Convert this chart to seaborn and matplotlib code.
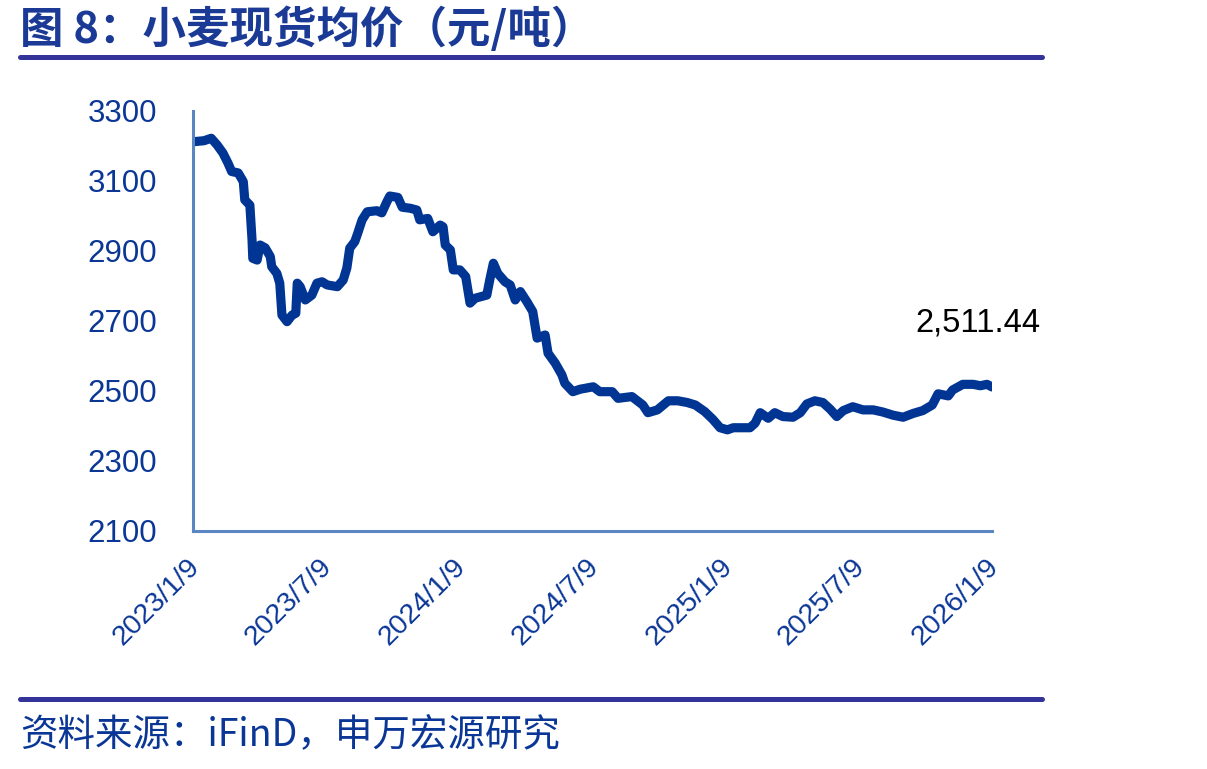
import matplotlib
matplotlib.use("Agg")
import matplotlib.pyplot as plt
import matplotlib.transforms as mtransforms
import seaborn as sns
import pandas as pd

# ---- data ----
start_date = "2023-01-09"
day_offsets = [0, 15, 25, 33, 41, 48, 53, 62, 69, 71, 78, 81, 82, 88, 92, 99, 106, 108,
               115, 119, 122, 129, 136, 141, 143, 147, 154, 163, 170, 177, 184, 198,
               206, 211, 215, 222, 226, 232, 239, 252, 259, 266, 270, 281, 287, 298,
               307, 311, 322, 329, 339, 343, 346, 353, 357, 366, 374, 380, 387, 403,
               407, 412, 418, 428, 435, 442, 449, 458, 466, 472, 483, 487, 497, 506,
               510, 521, 531, 549, 558, 575, 583, 602, 617, 624, 637, 652, 665, 678,
               689, 702, 713, 723, 733, 741, 764, 771, 778, 789, 798, 809, 823, 833,
               842, 853, 864, 874, 883, 892, 905, 919, 933, 946, 960, 974, 988, 1001,
               1014, 1022, 1036, 1042, 1056, 1070, 1080, 1089, 1096]
prices = [3212, 3215, 3222, 3203, 3180, 3151, 3127, 3123, 3098, 3046, 3031, 2931, 2879,
          2874, 2917, 2909, 2884, 2855, 2836, 2808, 2717, 2698, 2717, 2722, 2808, 2798,
          2760, 2774, 2808, 2812, 2803, 2798, 2817, 2851, 2908, 2927, 2951, 2989, 3012,
          3015, 3009, 3041, 3057, 3053, 3025, 3022, 3017, 2989, 2993, 2955, 2974, 2969,
          2917, 2903, 2846, 2846, 2827, 2751, 2765, 2774, 2817, 2865, 2836, 2812, 2803,
          2760, 2784, 2755, 2727, 2651, 2660, 2608, 2579, 2546, 2522, 2498, 2505, 2512,
          2498, 2498, 2479, 2484, 2460, 2438, 2446, 2472, 2472, 2467, 2460, 2441, 2419,
          2395, 2389, 2395, 2395, 2408, 2438, 2422, 2438, 2427, 2425, 2438, 2463, 2472,
          2467, 2448, 2427, 2444, 2455, 2446, 2446, 2440, 2431, 2425, 2436, 2444, 2460,
          2492, 2486, 2503, 2519, 2519, 2515, 2519, 2511.44]
tick_dates = ["2023-01-09", "2023-07-09", "2024-01-09", "2024-07-09",
              "2025-01-09", "2025-07-09", "2026-01-09"]
tick_labels = ["2023/1/9", "2023/7/9", "2024/1/9", "2024/7/9",
               "2025/1/9", "2025/7/9", "2026/1/9"]
y_ticks = [2100, 2300, 2500, 2700, 2900, 3100, 3300]
last_label = "2,511.44"
title = "图 8：小麦现货均价（元/吨）"
source = "资料来源：iFinD，申万宏源研究"

# ---- style ----
sns.set_style("white")
plt.rcParams["font.family"] = ["Liberation Sans", "Noto Sans CJK SC", "DejaVu Sans"]

line_color = "#003594"
axis_color = "#5A86C2"
text_blue = "#0A3696"
rule_color = "#333399"

df = pd.DataFrame({
    "date": pd.Timestamp(start_date) + pd.to_timedelta(day_offsets, unit="D"),
    "price": prices,
})

fig = plt.figure(figsize=(12.07, 7.69), dpi=100)
ax = fig.add_axes([0.1599, 0.3095, 0.8219 - 0.1599, 0.8557 - 0.3095])

sns.lineplot(data=df, x="date", y="price", ax=ax, color=line_color,
             linewidth=6.6, solid_capstyle="round", solid_joinstyle="round")

ax.set_xlim(pd.Timestamp(tick_dates[0]), pd.Timestamp(tick_dates[-1]))
ax.set_ylim(y_ticks[0], y_ticks[-1])
ax.set_yticks(y_ticks)
ax.set_yticklabels([str(v) for v in y_ticks])
ax.set_xticks([pd.Timestamp(d) for d in tick_dates])
ax.set_xticklabels(tick_labels, rotation=45, ha="right", va="top",
                   rotation_mode="anchor")
ax.set_xlabel("")
ax.set_ylabel("")

for side in ["top", "right"]:
    ax.spines[side].set_visible(False)
for side in ["left", "bottom"]:
    ax.spines[side].set_color(axis_color)
    ax.spines[side].set_linewidth(2.2)

ax.tick_params(axis="both", which="both", direction="out", length=6, width=2.2,
               color=axis_color, labelcolor=text_blue)
ax.tick_params(axis="y", pad=20, labelsize=22.5)
ax.tick_params(axis="x", pad=10, labelsize=20.5)
ax.grid(False)

shift = mtransforms.ScaledTranslation(-6 / 100, 0, fig.dpi_scale_trans)
for lab in ax.get_xticklabels():
    lab.set_transform(lab.get_transform() + shift)

# last value label
ax.annotate(last_label, xy=(df["date"].iloc[-1], prices[-1]), xytext=(35, 46),
            textcoords="offset points", ha="right", va="center",
            fontsize=23.5, color="black", annotation_clip=False)

# title and rules
fig.text(20 / 1207, 1 - 29 / 769, title, ha="left", va="center",
         fontsize=31.3, fontweight="bold", color="#1A3A96",
         family=["Noto Sans CJK SC", "DejaVu Sans"])
fig.add_artist(plt.Line2D([20 / 1207, 1042 / 1207], [1 - 57 / 769, 1 - 57 / 769],
                          color=rule_color, linewidth=3.6, transform=fig.transFigure))
fig.add_artist(plt.Line2D([20 / 1207, 1042 / 1207], [1 - 699 / 769, 1 - 699 / 769],
                          color=rule_color, linewidth=3.6, transform=fig.transFigure))
fig.text(20 / 1207, 1 - 736 / 769, source, ha="left", va="center",
         fontsize=27, color=text_blue,
         family=["Noto Sans CJK SC", "DejaVu Sans"])

fig.savefig("out.png", dpi=100)
